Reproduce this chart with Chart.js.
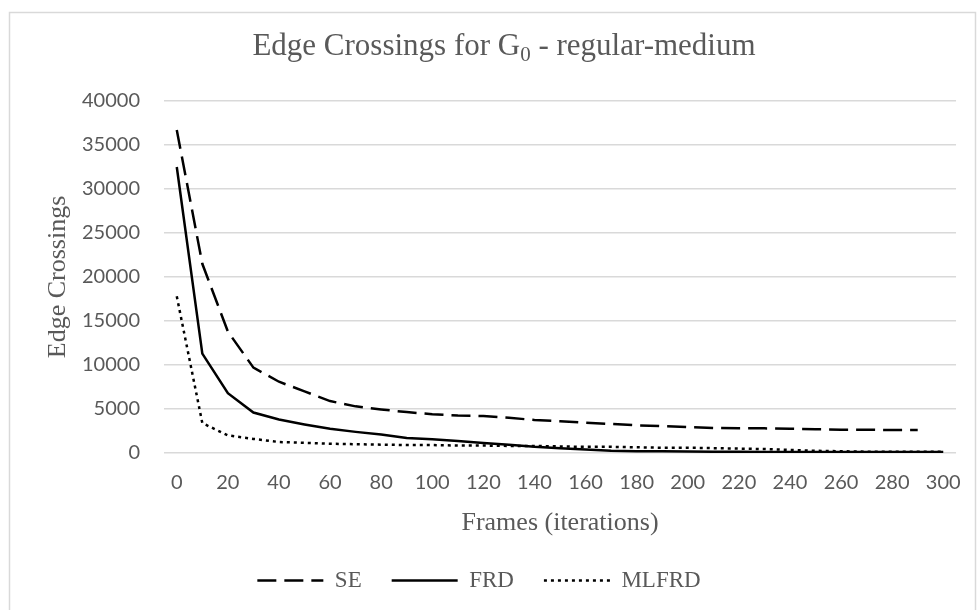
<!DOCTYPE html>
<html>
<head>
<meta charset="utf-8">
<script src="https://cdn.jsdelivr.net/npm/chart.js@4.4.1/dist/chart.umd.min.js"></script>
<style>
  html, body { margin: 0; padding: 0; background: #fff; }
  #wrap { width: 979px; height: 610px; }
</style>
</head>
<body>
<div id="wrap"><canvas id="chart" width="979" height="610"></canvas></div>
<script>
// frames on the x axis (every 10 iterations)
const frames = [0,10,20,30,40,50,60,70,80,90,100,110,120,130,140,150,160,170,180,190,200,210,220,230,240,250,260,270,280,290,300];

// edge crossings
const seValues = [36700,21500,13800,9700,8100,7000,5900,5300,4950,4650,4400,4250,4200,4000,3750,3600,3450,3300,3150,3050,2950,2850,2800,2800,2750,2700,2650,2650,2600,2600,null];
const frdValues = [32500,11300,6800,4600,3800,3250,2750,2400,2100,1700,1550,1350,1150,950,700,550,400,250,200,200,180,150,150,120,100,100,100,100,100,100,100];
const mlfrdValues = [17800,3400,2000,1600,1250,1150,1050,1000,950,900,900,850,850,800,800,750,700,700,650,600,600,550,500,450,350,250,200,150,150,150,150];

const yMax = 40000;
const yStep = 5000;

const titleMain = 'Edge Crossings for G';
const titleSub = '0';
const titleTail = ' - regular-medium';

const textColor = '#595959';
const gridColor = '#d9d9d9';

const frameBorder = {
  id: 'frameBorder',
  beforeDraw(chart) {
    const ctx = chart.ctx;
    ctx.save();
    ctx.fillStyle = '#fff';
    ctx.fillRect(0, 0, chart.width, chart.height);
    ctx.strokeStyle = gridColor;
    ctx.lineWidth = 1.5;
    ctx.strokeRect(9.5, 12.5, 966, 620);
    ctx.restore();
  }
};

// title with a subscript, Chart.js title can't do that
const subTitle = {
  id: 'subTitle',
  afterDraw(chart) {
    const ctx = chart.ctx;
    ctx.save();
    ctx.fillStyle = textColor;
    ctx.textBaseline = 'alphabetic';
    const big = '31px "Liberation Serif"';
    const small = '21px "Liberation Serif"';
    ctx.font = big;
    const w1 = ctx.measureText(titleMain).width;
    const w3 = ctx.measureText(titleTail).width;
    ctx.font = small;
    const w2 = ctx.measureText(titleSub).width;
    let x = 504 - (w1 + w2 + w3) / 2;
    const y = 55;
    ctx.font = big;
    ctx.fillText(titleMain, x, y);
    x += w1;
    ctx.font = small;
    ctx.fillText(titleSub, x, y + 6);
    x += w2;
    ctx.font = big;
    ctx.fillText(titleTail, x, y);
    ctx.restore();
  }
};

const ctx = document.getElementById('chart').getContext('2d');
new Chart(ctx, {
  type: 'line',
  data: {
    labels: frames,
    datasets: [
      { label: 'SE', data: seValues, borderColor: '#000', borderWidth: 2.5, borderDash: [19, 8], pointStyle: 'line' },
      { label: 'FRD', data: frdValues, borderColor: '#000', borderWidth: 2.5, pointStyle: 'line' },
      { label: 'MLFRD', data: mlfrdValues, borderColor: '#000', borderWidth: 2.5, borderDash: [3, 4], pointStyle: 'line' }
    ]
  },
  options: {
    responsive: false,
    animation: false,
    devicePixelRatio: 1,
    elements: { point: { radius: 0, hoverRadius: 0 }, line: { tension: 0, fill: false } },
    layout: { padding: { top: 101, right: 21, bottom: 8, left: 0 } },
    plugins: {
      title: { display: false },
      tooltip: { enabled: false },
      legend: {
        position: 'bottom',
        labels: {
          usePointStyle: true,
          pointStyleWidth: 66,
          color: textColor,
          padding: 30,
          font: { family: 'Liberation Serif', size: 23 },
          // legend takes point styles, so copy the line dash back in
          generateLabels(chart) {
            const items = Chart.defaults.plugins.legend.labels.generateLabels(chart);
            items.forEach(it => {
              const ds = chart.data.datasets[it.datasetIndex];
              it.lineDash = ds.borderDash || [];
              it.lineWidth = ds.borderWidth;
              it.strokeStyle = ds.borderColor;
              it.lineCap = 'butt';
            });
            return items;
          }
        }
      }
    },
    scales: {
      x: {
        offset: true,
        grid: { display: false, drawTicks: false },
        border: { display: false },
        ticks: {
          autoSkip: false,
          maxRotation: 0,
          padding: 18,
          color: textColor,
          font: { family: 'Lato', size: 20 },
          callback: (v, i) => frames[i] % 20 === 0 ? String(frames[i]) : ''
        },
        title: {
          display: true,
          text: 'Frames (iterations)',
          color: textColor,
          font: { family: 'Liberation Serif', size: 26 },
          padding: { top: 0, bottom: 0 }
        },
        afterFit(s) { s.height = 86; }
      },
      y: {
        min: 0,
        max: yMax,
        grid: { color: gridColor, lineWidth: 1.5, drawTicks: false },
        border: { display: false },
        ticks: {
          stepSize: yStep,
          padding: 24,
          color: textColor,
          font: { family: 'Lato', size: 20 },
          callback: v => String(v)
        },
        title: {
          display: true,
          text: 'Edge Crossings',
          color: textColor,
          font: { family: 'Liberation Serif', size: 26 },
          padding: { top: 43, bottom: 0 }
        },
        afterFit(s) { s.width = 164; }
      }
    }
  },
  plugins: [frameBorder, subTitle]
});
</script>
</body>
</html>
